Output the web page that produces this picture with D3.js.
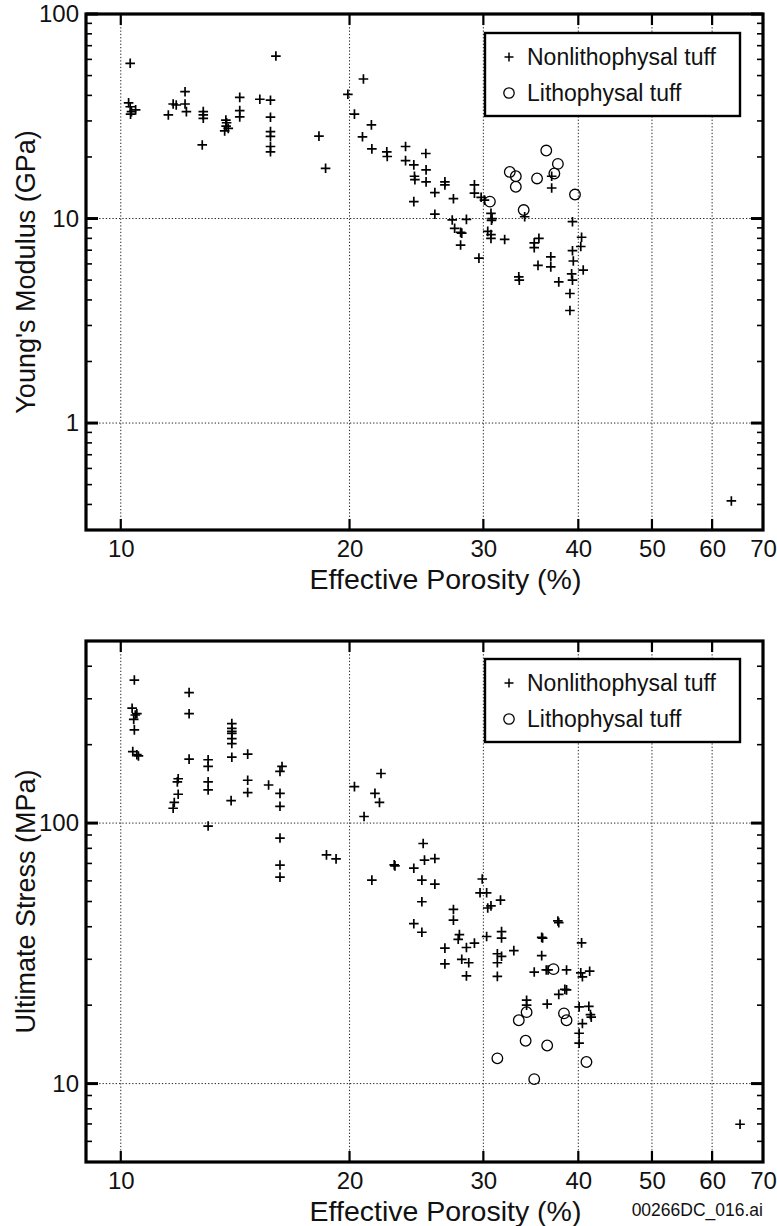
<!DOCTYPE html>
<html><head><meta charset="utf-8">
<script src="https://cdn.jsdelivr.net/npm/d3@7/dist/d3.min.js"></script>
<style>
body{margin:0;background:#fff}
text{font-family:"Liberation Sans",Arial,Helvetica,sans-serif;fill:#111}
</style></head>
<body><svg id="chart" width="777" height="1226"></svg>
<script>
// ---------------- data ----------------
const xDomain = [9, 70];
const xTickValues = [10, 20, 30, 40, 50, 60, 70];
const xGridValues = [10, 20, 30, 40, 50, 60];

const modulusDomain = [0.3, 100];
const modulusTickLabels = [1, 10, 100];
const modulusGrid = [1, 10];

const stressDomain = [5, 500];
const stressTickLabels = [10, 100];
const stressGrid = [10, 100];

const seriesNames = ["Nonlithophysal tuff", "Lithophysal tuff"];

// Young's modulus (GPa) vs effective porosity (%)
const modulusNonlith = [
  [10.29,57.4],[10.24,36.8],[10.29,35.2],[10.33,33.3],[10.46,34],[10.3,32.4],
  [11.55,32.1],[11.72,36.3],[11.83,35.9],[12.15,41.7],[12.15,36.3],[12.2,33.3],
  [12.84,33.3],[12.84,32.1],[12.84,30.9],[12.8,22.9],
  [13.75,30.3],[13.78,29.4],[13.76,28.3],[13.7,26.8],[13.85,27.6],
  [14.34,39.1],[14.34,33.7],[14.34,31.4],[15.24,38.3],[15.74,37.9],
  [15.74,31.3],[15.74,26.6],[15.74,25.2],[15.74,22.5],[15.74,21.2],[16.0,62.3],
  [18.23,25.3],[18.6,17.6],
  [19.9,40.5],[20.86,48.1],[20.3,32.4],[21.37,28.7],[20.8,25.1],[21.4,21.9],
  [22.39,21.2],[22.42,20.1],[23.7,22.5],[23.7,19.2],[24.3,18.3],[24.35,16.1],
  [24.38,15.5],[24.3,12.1],[25.2,20.8],[25.22,17.3],[25.22,15.1],[25.9,13.4],
  [26.7,15.1],[26.7,14.6],[27.4,12.5],[25.9,10.5],[27.3,9.84],[27.5,8.96],
  [28.0,8.56],[28.1,8.48],[28.0,7.42],[28.5,9.9],[29.2,14.6],[29.2,13.3],
  [29.8,12.7],[30.1,12.3],[29.6,6.4],[30.7,10.6],[30.8,10.0],[30.75,9.8],
  [30.4,8.65],[30.7,8.35],[30.7,8.0],[32.0,7.9],[33.4,5.19],[33.45,5.0],
  [34.0,10.2],[35.0,7.6],[35.0,7.2],[35.5,8.0],[35.4,5.9],[36.8,6.5],
  [36.8,5.8],[37.7,4.9],[36.9,16.1],[36.9,14.1],
  [39.3,9.65],[40.4,8.1],[40.3,7.3],[39.3,6.96],[39.4,6.2],[40.6,5.6],
  [39.2,5.36],[39.3,5.0],[39.0,4.3],[39.0,3.55],[63.6,0.416]
];
const modulusLith = [
  [30.6,12.1],[32.5,16.9],[33.1,16.1],[33.1,14.3],[33.9,11.0],[35.3,15.7],
  [36.3,21.5],[37.2,16.6],[37.6,18.5],[39.6,13.1]
];

// Ultimate stress (MPa) vs effective porosity (%)
const stressNonlith = [
  [10.42,354],[10.35,276],[10.5,263],[10.4,250],[10.45,260],[10.42,228],
  [10.37,188],[10.5,183],[10.55,181],
  [12.3,317],[12.3,263],[12.3,176],[11.76,120],[11.72,114],[11.9,148],
  [11.87,144],[11.9,129],
  [13.03,175],[13.03,165],[13.03,144],[13.03,134],[13.03,97.4],
  [14.0,241],[14.0,231],[14.0,225],[14.0,221],[14.0,211],[14.0,202],
  [14.0,179],[13.97,122],[14.69,184],[14.69,146],[14.69,131],
  [15.65,140],[16.2,158],[16.3,165],[16.2,130],[16.2,116],[16.2,87.6],
  [16.2,69],[16.2,62],
  [18.65,75.5],[19.2,72.9],
  [20.3,138],[21.6,130],[22.0,155],[21.9,120],[20.9,106],
  [22.9,69.1],[22.95,68.5],[21.4,60.4],
  [25.0,83.5],[25.1,72.1],[25.9,73.1],[24.3,67.1],[24.9,60.4],[25.9,58.3],
  [24.9,49.9],[24.3,41.1],[24.9,38.1],
  [27.4,46.6],[27.4,42.4],[27.9,37.3],[27.8,35.8],[26.7,33.1],[26.7,28.8],
  [28.1,30.0],[28.7,29.1],[28.5,33.3],[29.2,34.6],[28.5,25.9],
  [29.9,61.0],[29.7,54.0],[30.3,54.0],[30.4,47.2],[30.7,48.1],[31.6,50.6],
  [30.3,36.7],[31.7,38.3],[31.7,36.2],[31.3,31.5],[31.7,30.8],[31.3,29.1],
  [31.3,25.8],[32.9,32.4],
  [35.8,36.4],[35.8,31.0],[35.0,26.8],[36.5,27.3],[38.6,27.3],
  [37.6,42.1],[37.7,41.5],[37.7,22.0],[38.6,22.9],[36.4,20.2],
  [34.2,20.9],[34.2,20.0],[36.3,27.3],[35.9,36.2],
  [40.4,34.7],[40.3,26.6],[40.5,25.7],[41.4,27.0],[38.4,23.0],
  [40.1,19.7],[41.3,19.8],[41.5,18.4],[41.6,18.0],[40.5,17.0],
  [40.1,15.6],[40.1,14.3],[65.3,6.98]
];
const stressLith = [
  [37.1,27.5],[33.4,17.5],[34.2,18.8],[38.3,18.6],[38.6,17.5],
  [34.1,14.6],[36.4,14.0],[41.0,12.1],[31.3,12.5],[35.0,10.4]
];

// ---------------- drawing ----------------
const svg = d3.select("#chart");
const left = 86, right = 763;

function minorTicks(domain) {
  const out = [];
  for (let e = -2; e <= 3; e++) {
    for (let m = 1; m <= 9; m++) {
      const v = m * Math.pow(10, e);
      if (v >= domain[0] * 0.999 && v <= domain[1] * 1.001) out.push(+v.toPrecision(6));
    }
  }
  return out;
}

function drawPanel(cfg) {
  const g = svg.append("g");
  const x = d3.scaleLog().domain(xDomain).range([left, right]);
  const y = d3.scaleLog().domain(cfg.yDomain).range([cfg.bottom, cfg.top]);

  // gridlines
  g.selectAll(".vg").data(xGridValues).join("line")
    .attr("x1", d => x(d)).attr("x2", d => x(d))
    .attr("y1", cfg.top).attr("y2", cfg.bottom)
    .attr("stroke", "#222").attr("stroke-width", 1).attr("stroke-dasharray", "1.3,2");
  g.selectAll(".hg").data(cfg.yGrid).join("line")
    .attr("x1", left).attr("x2", right)
    .attr("y1", d => y(d)).attr("y2", d => y(d))
    .attr("stroke", "#222").attr("stroke-width", 1).attr("stroke-dasharray", "1.3,2");

  // minor / major y ticks on left and right
  const ym = minorTicks(cfg.yDomain);
  const isMajor = v => Math.abs(Math.log10(v) - Math.round(Math.log10(v))) < 1e-6;
  g.selectAll(".ytl").data(ym).join("line")
    .attr("x1", left).attr("x2", d => left + (isMajor(d) ? 12 : 6))
    .attr("y1", d => y(d)).attr("y2", d => y(d))
    .attr("stroke", "#000").attr("stroke-width", d => isMajor(d) ? 3 : 1.6);
  g.selectAll(".ytr").data(ym).join("line")
    .attr("x1", right).attr("x2", d => right - (isMajor(d) ? 12 : 6))
    .attr("y1", d => y(d)).attr("y2", d => y(d))
    .attr("stroke", "#000").attr("stroke-width", d => isMajor(d) ? 3 : 1.6);
  // x ticks on bottom and top
  g.selectAll(".xtb").data(xGridValues).join("line")
    .attr("x1", d => x(d)).attr("x2", d => x(d))
    .attr("y1", cfg.bottom).attr("y2", cfg.bottom - 11)
    .attr("stroke", "#000").attr("stroke-width", 2.2);
  g.selectAll(".xtt").data(xGridValues).join("line")
    .attr("x1", d => x(d)).attr("x2", d => x(d))
    .attr("y1", cfg.top).attr("y2", cfg.top + 11)
    .attr("stroke", "#000").attr("stroke-width", 2.2);

  // axes labels via d3 axes
  const xa = g.append("g").attr("transform", `translate(0,${cfg.bottom})`)
    .call(d3.axisBottom(x).tickValues(xTickValues).tickFormat(d3.format("d")).tickSize(0).tickPadding(10));
  xa.select(".domain").remove();
  xa.selectAll("text").style("font-size", "24px").attr("fill", "#111");

  const ya = g.append("g").attr("transform", `translate(${left},0)`)
    .call(d3.axisLeft(y).tickValues(cfg.yTickLabels).tickFormat(d3.format("d")).tickSize(0).tickPadding(7));
  ya.select(".domain").remove();
  ya.selectAll("text").style("font-size", "24px").attr("fill", "#111");

  // frame
  g.append("rect").attr("x", left).attr("y", cfg.top)
    .attr("width", right - left).attr("height", cfg.bottom - cfg.top)
    .attr("fill", "none").attr("stroke", "#000").attr("stroke-width", 3.2);

  // axis titles
  g.append("text").attr("x", (left + right) / 2 + 21).attr("y", cfg.bottom + 59)
    .attr("text-anchor", "middle").style("font-size", "28.5px").text("Effective Porosity (%)");
  g.append("text")
    .attr("transform", `translate(35,${(cfg.top + cfg.bottom) / 2}) rotate(-90)`)
    .attr("text-anchor", "middle").style("font-size", "27px").text(cfg.yTitle);

  // markers
  g.selectAll(".pn").data(cfg.non).join("path")
    .attr("d", "M-4.8,0H4.8M0,-4.8V4.8")
    .attr("transform", d => `translate(${x(d[0])},${y(d[1])})`)
    .attr("stroke", "#000").attr("stroke-width", 1.7).attr("fill", "none");
  g.selectAll(".pl").data(cfg.lith).join("circle")
    .attr("cx", d => x(d[0])).attr("cy", d => y(d[1])).attr("r", 5.3)
    .attr("stroke", "#000").attr("stroke-width", 1.3).attr("fill", "none");

  // legend
  const lg = g.append("g");
  lg.append("rect").attr("x", 485).attr("y", cfg.legendTop)
    .attr("width", 255).attr("height", 83)
    .attr("fill", "#fff").attr("stroke", "#000").attr("stroke-width", 2.4);
  lg.append("path").attr("d", "M-4.5,0H4.5M0,-4.5V4.5")
    .attr("transform", `translate(509,${cfg.legendTop + 24})`)
    .attr("stroke", "#000").attr("stroke-width", 1.5);
  lg.append("circle").attr("cx", 509).attr("cy", cfg.legendTop + 60).attr("r", 5.2)
    .attr("stroke", "#000").attr("stroke-width", 1.3).attr("fill", "none");
  lg.append("text").attr("x", 527).attr("y", cfg.legendTop + 32)
    .style("font-size", "23px").text(seriesNames[0]);
  lg.append("text").attr("x", 527).attr("y", cfg.legendTop + 68)
    .style("font-size", "23px").text(seriesNames[1]);
}

drawPanel({
  top: 14, bottom: 530, yDomain: modulusDomain, yTickLabels: modulusTickLabels,
  yGrid: modulusGrid, yTitle: "Young's Modulus (GPa)",
  non: modulusNonlith, lith: modulusLith, legendTop: 33
});
drawPanel({
  top: 641, bottom: 1162, yDomain: stressDomain, yTickLabels: stressTickLabels,
  yGrid: stressGrid, yTitle: "Ultimate Stress (MPa)",
  non: stressNonlith, lith: stressLith, legendTop: 659
});

svg.append("text").attr("x", 763).attr("y", 1216).attr("text-anchor", "end")
  .style("font-size", "17.5px").text("00266DC_016.ai");
</script>
</body></html>
